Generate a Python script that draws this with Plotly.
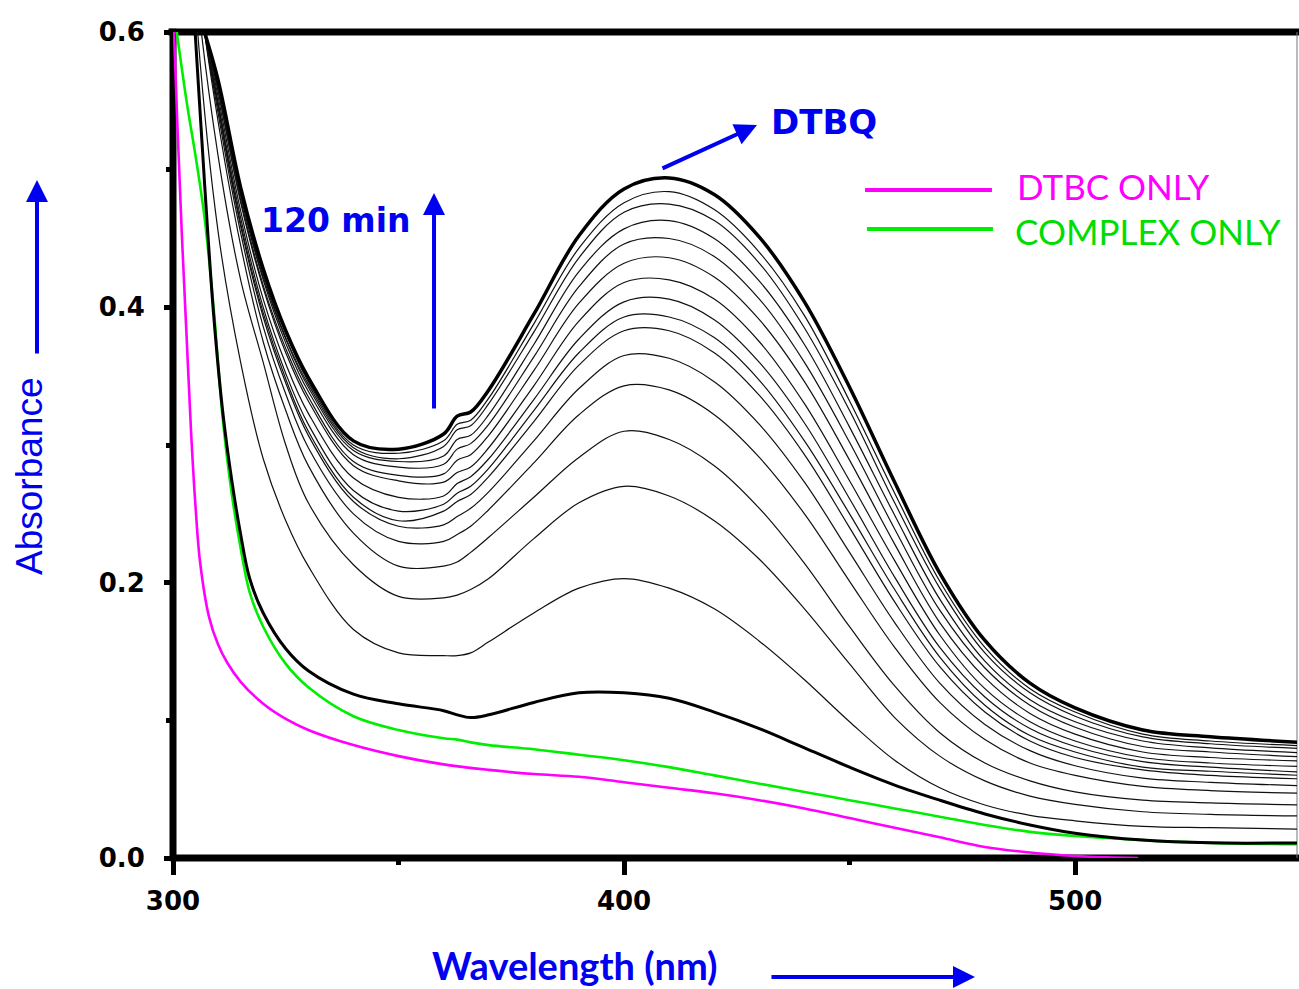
import plotly.graph_objects as go

# Wavelength grid (nm) shared by the time-resolved spectra
WL = [300, 305, 310, 315, 320, 325, 330, 340, 350, 360, 363, 366, 370, 380, 390,
      400, 410, 420, 430, 440, 450, 460, 470, 480, 490, 500, 515, 530, 550]

# Spectra recorded during the oxidation, from first scan up to 120 min
S01 = [0.95, 0.62, 0.455, 0.36, 0.29, 0.245, 0.212, 0.166, 0.149, 0.147, 0.147, 0.149, 0.157, 0.178, 0.196,
       0.203, 0.196, 0.181, 0.1575, 0.1295, 0.099, 0.071, 0.051, 0.0385, 0.031, 0.027, 0.023, 0.022, 0.021]
S02 = [0.90, 0.64, 0.51, 0.42, 0.36, 0.30, 0.258, 0.213, 0.190, 0.189, 0.191, 0.195, 0.203, 0.232, 0.258,
       0.270, 0.263, 0.245, 0.217, 0.181, 0.141, 0.102, 0.074, 0.056, 0.045, 0.039, 0.0336, 0.0317, 0.0305]
S03 = [0.85, 0.65, 0.535, 0.445, 0.375, 0.325, 0.285, 0.236, 0.212, 0.212, 0.215, 0.222, 0.233, 0.262, 0.291,
       0.310, 0.304, 0.285, 0.254, 0.214, 0.168, 0.125, 0.091, 0.069, 0.056, 0.048, 0.042, 0.040, 0.0385]
S04 = [0.823, 0.645, 0.541, 0.454, 0.386, 0.337, 0.298, 0.250, 0.230, 0.230, 0.235, 0.241, 0.253, 0.287, 0.322,
       0.343, 0.340, 0.322, 0.291, 0.250, 0.201, 0.153, 0.113, 0.086, 0.069, 0.060, 0.052, 0.049, 0.047]
S05 = [0.806, 0.642, 0.545, 0.459, 0.393, 0.345, 0.307, 0.259, 0.241, 0.242, 0.248, 0.254, 0.266, 0.303, 0.341,
       0.365, 0.363, 0.346, 0.315, 0.273, 0.222, 0.171, 0.127, 0.097, 0.078, 0.067, 0.058, 0.055, 0.0525]
S06 = [0.799, 0.640, 0.547, 0.461, 0.396, 0.348, 0.310, 0.262, 0.245, 0.252, 0.259, 0.264, 0.277, 0.317, 0.358,
       0.383, 0.383, 0.367, 0.336, 0.293, 0.240, 0.186, 0.139, 0.106, 0.085, 0.073, 0.064, 0.060, 0.0575]
S07 = [0.789, 0.638, 0.549, 0.465, 0.400, 0.352, 0.315, 0.267, 0.252, 0.257, 0.265, 0.270, 0.283, 0.325, 0.367,
       0.393, 0.393, 0.378, 0.347, 0.303, 0.250, 0.195, 0.146, 0.111, 0.089, 0.077, 0.066, 0.063, 0.060]
S08 = [0.773, 0.635, 0.553, 0.470, 0.406, 0.359, 0.323, 0.276, 0.262, 0.263, 0.272, 0.277, 0.290, 0.333, 0.377,
       0.404, 0.406, 0.391, 0.360, 0.316, 0.261, 0.204, 0.153, 0.117, 0.094, 0.081, 0.070, 0.066, 0.0625]
S09 = [0.755, 0.632, 0.557, 0.476, 0.414, 0.367, 0.332, 0.285, 0.274, 0.273, 0.280, 0.284, 0.298, 0.343, 0.390,
       0.418, 0.420, 0.406, 0.375, 0.330, 0.274, 0.216, 0.162, 0.123, 0.099, 0.085, 0.073, 0.069, 0.0665]
S10 = [0.749, 0.631, 0.558, 0.478, 0.416, 0.370, 0.335, 0.288, 0.278, 0.279, 0.289, 0.293, 0.307, 0.354, 0.403,
       0.432, 0.436, 0.422, 0.391, 0.346, 0.289, 0.228, 0.171, 0.131, 0.105, 0.090, 0.077, 0.073, 0.0705]
S11 = [0.740, 0.629, 0.561, 0.481, 0.420, 0.374, 0.339, 0.293, 0.284, 0.286, 0.297, 0.301, 0.315, 0.364, 0.415,
       0.446, 0.450, 0.437, 0.406, 0.360, 0.302, 0.239, 0.180, 0.138, 0.111, 0.095, 0.081, 0.077, 0.0735]
S12 = [0.734, 0.628, 0.562, 0.482, 0.422, 0.377, 0.342, 0.296, 0.288, 0.292, 0.304, 0.307, 0.322, 0.373, 0.426,
       0.457, 0.463, 0.450, 0.419, 0.373, 0.313, 0.249, 0.188, 0.143, 0.115, 0.099, 0.085, 0.080, 0.0765]
S13 = [0.730, 0.627, 0.563, 0.484, 0.424, 0.378, 0.344, 0.298, 0.290, 0.299, 0.311, 0.314, 0.330, 0.382, 0.436,
       0.469, 0.475, 0.463, 0.432, 0.385, 0.325, 0.258, 0.196, 0.149, 0.120, 0.103, 0.088, 0.083, 0.0795]
S14 = [0.725, 0.626, 0.564, 0.485, 0.426, 0.381, 0.346, 0.300, 0.294, 0.303, 0.315, 0.318, 0.334, 0.388, 0.443,
       0.476, 0.484, 0.471, 0.440, 0.394, 0.332, 0.265, 0.201, 0.153, 0.123, 0.106, 0.090, 0.085, 0.0815]
S_120MIN = [0.720, 0.625, 0.565, 0.487, 0.428, 0.383, 0.349, 0.303, 0.297, 0.308, 0.321, 0.324, 0.340, 0.395, 0.452,
            0.486, 0.494, 0.482, 0.451, 0.404, 0.342, 0.273, 0.207, 0.158, 0.127, 0.109, 0.093, 0.088, 0.084]
THIN_SCANS = [S01, S02, S03, S04, S05, S06, S07, S08, S09, S10, S11, S12, S13, S14]

# Finer grid for the first scan and the complex reference
WL_FINE = [300, 303, 305, 307, 309, 311, 313, 315, 317, 320, 325, 330, 340, 350, 360, 363, 366, 370,
           380, 390, 400, 410, 420, 430, 440, 450, 460, 470, 480, 490, 500, 515, 530, 550]
S_START = [0.86, 0.70, 0.595, 0.49, 0.395, 0.325, 0.275, 0.235, 0.203, 0.178, 0.152, 0.136, 0.119, 0.112,
           0.107, 0.104, 0.102, 0.104, 0.113, 0.120, 0.120, 0.116, 0.106, 0.094, 0.080, 0.066, 0.053,
           0.042, 0.032, 0.024, 0.018, 0.013, 0.011, 0.011]
COMPLEX_ONLY = [0.62, 0.55, 0.51, 0.465, 0.40, 0.32, 0.265, 0.225, 0.193, 0.168, 0.141, 0.124, 0.103, 0.093,
                0.087, 0.086, 0.084, 0.082, 0.079, 0.075, 0.071, 0.066, 0.060, 0.054, 0.048, 0.042, 0.036,
                0.030, 0.024, 0.019, 0.016, 0.013, 0.011, 0.010]

# DTBC substrate alone
WL_DTBC = [300, 301, 302, 303, 304, 305, 306, 308, 310, 312, 315, 320, 325, 330, 340, 350, 360, 370, 380,
           390, 400, 410, 420, 430, 440, 450, 460, 470, 480, 490, 500, 507, 514]
DTBC_ONLY = [0.62, 0.53, 0.45, 0.38, 0.31, 0.255, 0.215, 0.175, 0.155, 0.142, 0.128, 0.112, 0.101, 0.093,
             0.082, 0.074, 0.068, 0.064, 0.061, 0.059, 0.055, 0.051, 0.047, 0.042, 0.036, 0.029, 0.022,
             0.015, 0.008, 0.004, 0.0015, 0.0005, 0.0]

BLUE = "#0000F0"
X_RANGE = [300, 549.2]
Y_RANGE = [0, 0.6]

fig = go.Figure()

fig.add_trace(go.Scatter(x=WL_DTBC, y=DTBC_ONLY, mode="lines", line=dict(color="#FF00FF", width=2.6, shape="spline")))
fig.add_trace(go.Scatter(x=WL_FINE, y=COMPLEX_ONLY, mode="lines", line=dict(color="#00EE00", width=2.6, shape="spline")))
for s in THIN_SCANS:
    fig.add_trace(go.Scatter(x=WL, y=s, mode="lines", line=dict(color="#111111", width=1.2, shape="spline")))
fig.add_trace(go.Scatter(x=WL_FINE, y=S_START, mode="lines", line=dict(color="black", width=3, shape="spline")))
fig.add_trace(go.Scatter(x=WL, y=S_120MIN, mode="lines", line=dict(color="black", width=3.5, shape="spline")))

tick_font = dict(family="DejaVu Sans", size=26, color="black", weight="bold")

fig.update_layout(
    width=1299, height=989,
    margin=dict(l=173, r=2, t=32, b=131),
    paper_bgcolor="white", plot_bgcolor="white",
    showlegend=False,
    xaxis=dict(range=X_RANGE, showgrid=False, zeroline=False, showline=False,
               tickmode="array", tickvals=[300, 400, 500], ticktext=["300", "400", "500"],
               ticks="outside", ticklen=16, tickwidth=5, tickcolor="black",
               minor=dict(tickvals=[350, 450], ticks="outside", ticklen=6, tickwidth=5, tickcolor="black"),
               tickfont=tick_font, ticklabelstandoff=4),
    yaxis=dict(range=Y_RANGE, showgrid=False, zeroline=False, showline=False,
               tickmode="array", tickvals=[0, 0.2, 0.4, 0.6], ticktext=["0.0", "0.2", "0.4", "0.6"],
               ticks="outside", ticklen=8, tickwidth=5, tickcolor="black",
               minor=dict(tickvals=[0.1, 0.3, 0.5], ticks="outside", ticklen=6, tickwidth=5, tickcolor="black"),
               tickfont=tick_font, ticklabelstandoff=14),
)

# Frame: heavy left, bottom and top edges, hairline on the right
frame = dict(type="line", xref="paper", yref="paper", layer="below")
fig.add_shape(**frame, x0=0, x1=0, y0=-0.004, y1=1.004, line=dict(color="black", width=7))
fig.add_shape(**frame, x0=0, x1=1.002, y0=0, y1=0, line=dict(color="black", width=7))
fig.add_shape(**frame, x0=-0.004, x1=1.002, y0=1, y1=1, line=dict(color="black", width=7))
fig.add_shape(**frame, x0=1, x1=1, y0=0, y1=1, line=dict(color="#777777", width=1))

# Legend drawn by hand
fig.add_shape(type="line", xref="paper", yref="paper", x0=0.6157, x1=0.7286, y0=0.8087, y1=0.8087,
              line=dict(color="#FF00FF", width=4))
fig.add_shape(type="line", xref="paper", yref="paper", x0=0.6174, x1=0.7295, y0=0.7615, y1=0.7615,
              line=dict(color="#00EE00", width=4))
fig.add_annotation(xref="paper", yref="paper", x=0.749, y=0.8136, xanchor="left", yanchor="middle",
                   text="DTBC ONLY", showarrow=False, font=dict(family="Lato", size=35, color="#FF00FF"))
fig.add_annotation(xref="paper", yref="paper", x=0.7473, y=0.759, xanchor="left", yanchor="middle",
                   text="COMPLEX ONLY", showarrow=False, font=dict(family="Lato", size=35, color="#00DD00"))

# Axis titles with direction arrows
fig.add_annotation(xref="paper", yref="paper", x=0.3577, y=-0.1295, xanchor="center", yanchor="middle",
                   text="<b>Wavelength (nm)</b>", showarrow=False,
                   font=dict(family="Lato", size=38, color=BLUE))
fig.add_annotation(xref="paper", yref="paper", x=-0.1272, y=0.4613, xanchor="center", yanchor="middle",
                   text="Absorbance", textangle=-90, showarrow=False,
                   font=dict(family="Liberation Sans", size=37, color=BLUE))
arrow = dict(text="", showarrow=True, arrowhead=2, arrowsize=1.1, arrowwidth=4, arrowcolor=BLUE)
fig.add_annotation(xref="paper", yref="paper", x=0.7135, y=-0.1441, ax=-205, ay=0, **arrow)
fig.add_annotation(xref="paper", yref="paper", x=-0.121, y=0.8208, ax=0, ay=175, **arrow)

# Annotations inside the plot
fig.add_annotation(x=357.87, y=0.483, ax=0, ay=217, **arrow)
fig.add_annotation(x=336.1, y=0.4634, xanchor="center", yanchor="middle", text="<b>120 min</b>",
                   showarrow=False, font=dict(family="DejaVu Sans", size=33, color=BLUE))
fig.add_annotation(x=429.48, y=0.5324, ax=-96, ay=44, **arrow)
fig.add_annotation(x=444.4, y=0.5346, xanchor="center", yanchor="middle", text="<b>DTBQ</b>",
                   showarrow=False, font=dict(family="DejaVu Sans", size=34, color=BLUE))

fig.write_html("out.html")
